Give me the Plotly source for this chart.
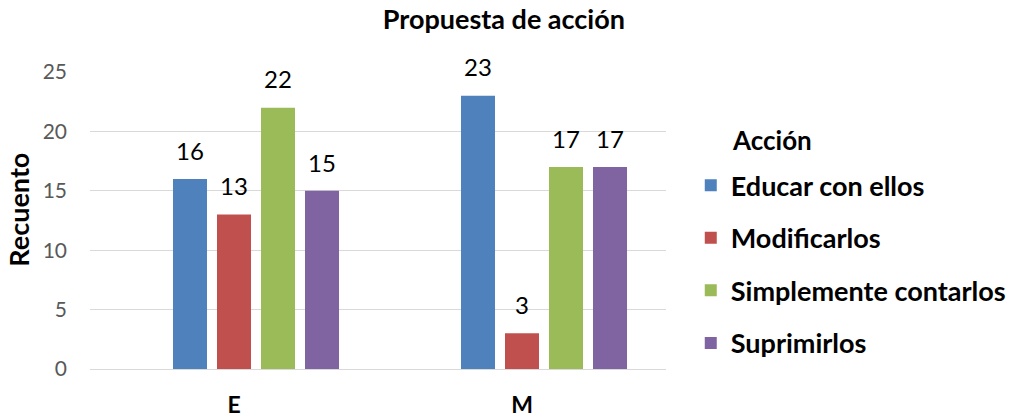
import plotly.graph_objects as go

categories = ["E", "M"]
series_names = ["Educar con ellos", "Modificarlos", "Simplemente contarlos", "Suprimirlos"]
educar = [16, 23]
modificar = [13, 3]
contar = [22, 17]
suprimir = [15, 17]
colors = ["#4F81BD", "#C0504D", "#9BBB59", "#8064A2"]
y_ticks = [0, 5, 10, 15, 20, 25]

FONT = "Lato"
fig = go.Figure()

# empty leading series (blank category in the source pivot chart)
fig.add_trace(go.Bar(x=categories, y=[None, None], name="", showlegend=False,
                     hoverinfo="skip"))

for i, (name, vals) in enumerate(zip(series_names, [educar, modificar, contar, suprimir])):
    fig.add_trace(go.Bar(
        x=categories, y=vals, name=f"<b>{name}</b>", marker_color=colors[i],
        marker_line_width=0,
        text=[f"<span style='font-size:24px'>{v}</span><br>"
              f"<span style='color:rgba(0,0,0,0)'>.</span>" for v in vals],
        texttemplate="%{text}",
        textposition="outside",
        textfont=dict(family=FONT, size=11, color="black"),
        cliponaxis=False,
        legendgroup=name,
    ))

fig.update_layout(
    width=1022, height=417,
    margin=dict(l=90, r=356, t=72, b=48, autoexpand=False),
    paper_bgcolor="white", plot_bgcolor="white",
    barmode="group", bargap=0.236, bargroupgap=0.227,
    font=dict(family=FONT, color="black"),
    title=dict(text="<b>Propuesta de acción</b>", x=0.493, xanchor="center",
               y=0.952, yanchor="middle", font=dict(size=27, color="black")),
    showlegend=True,
    legend=dict(x=1.043, xanchor="left", y=0.70, yanchor="top",
                font=dict(size=27, color="black"), tracegroupgap=14.5,
                traceorder="grouped"),
    annotations=[
        dict(text="<b>Acción</b>", xref="paper", yref="paper",
             x=1.111, y=0.771, xanchor="left", yanchor="middle",
             showarrow=False, font=dict(size=26, color="black")),
        dict(text="<b>Recuento</b>", xref="paper", yref="paper",
             x=-0.124, y=0.535, xanchor="center", yanchor="middle", textangle=-90,
             showarrow=False, font=dict(size=27, color="black")),
    ],
)

fig.update_xaxes(showgrid=False, showline=True, linecolor="#D9D9D9", linewidth=1,
                 tickfont=dict(size=23, color="black"), ticks="",
                 ticklabelstandoff=15, automargin=False,
                 tickvals=categories, ticktext=[f"<b>{c}</b>" for c in categories])
fig.update_yaxes(range=[0, 25], tickvals=y_ticks, showgrid=True,
                 gridcolor="#D9D9D9", gridwidth=1, zeroline=False, showline=False,
                 tickfont=dict(size=21, color="#595959"), ticks="",
                 ticklabelstandoff=22, automargin=False)

fig.write_html("out.html", config={"displayModeBar": False},
               post_script="document.body.style.margin='0';document.body.style.padding='0';")
